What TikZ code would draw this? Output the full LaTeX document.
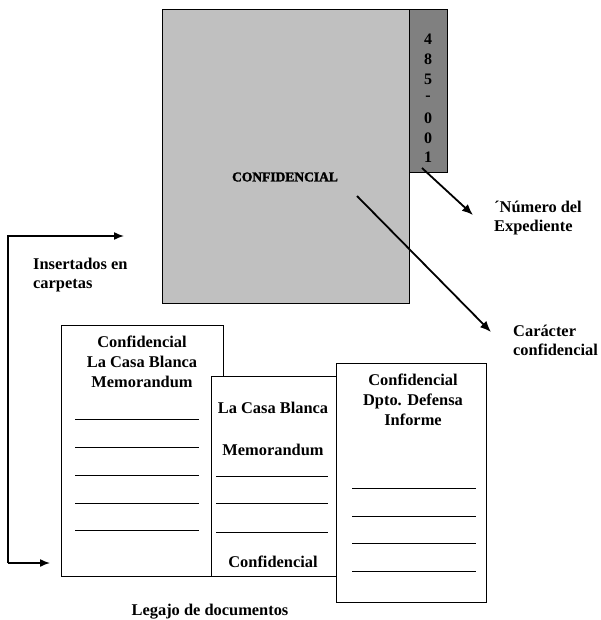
\documentclass[tikz,border=0pt]{standalone}
\usepackage{fontspec}
\setmainfont{Liberation Serif}
\usetikzlibrary{arrows.meta}
\definecolor{folder}{HTML}{C0C0C0}
\definecolor{tabgray}{HTML}{808080}
\tikzset{
  doc/.style={draw=black, line width=1pt, fill=white},
  lbl/.style={font=\fontsize{16.4}{20}\selectfont\bfseries, align=center, inner sep=0pt},
  lbll/.style={font=\fontsize{16.4}{19}\selectfont\bfseries, align=left, inner sep=0pt, anchor=west},
  rule/.style={line width=0.8pt},
  arr/.style={line width=1.8pt, -{Latex[length=11pt,width=9pt]}},
  digit/.style={font=\fontsize{16}{16}\selectfont\bfseries, inner sep=0pt}
}
\begin{document}
\begin{tikzpicture}[x=1pt,y=-1pt]
\useasboundingbox (0,0) rectangle (601,620);
% folder
\draw[fill=folder, line width=1pt] (162,10) rectangle (409,303);
\draw[fill=tabgray, line width=1pt] (409,10) rectangle (447,173);
\node[font=\fontsize{13.5}{13.5}\selectfont\bfseries\addfontfeature{FakeBold=2}, inner sep=0pt] (conf) at (285,177) {CONFIDENCIAL};
\foreach \d/\y [count=\i] in {4/39,8/59,5/79,-/98,0/118,0/138,1/157}{
  \node[digit] (d\i) at (428,\y) {\d};
}
\coordinate (tabend) at (422,168);
\coordinate (confpt) at (357,196);
\node[lbll] (numexp) at (494,218) {´Número del\\Expediente};
\node[lbll] (carconf) at (513,340) {Carácter\\confidencial};
\coordinate (tip1) at (473,215);
\coordinate (tip2) at (491,332);
\draw[arr] (tabend) -- (tip1);
\draw[arr] (confpt) -- (tip2);
% inserted arrow
\coordinate (c1) at (8,563);
\coordinate (c2) at (8,236);
\coordinate (t1) at (124,236);
\coordinate (t2) at (50,563);
\draw[line width=1.5pt, -{Latex[length=10pt,width=8pt]}] (c1) -- (c2) -- (t1);
\draw[line width=1.5pt, -{Latex[length=10pt,width=8pt]}] (c1) -- (t2);
\node[lbll] (ins) at (33,275) {Insertados en\\carpetas};
% documents
\draw[doc] (61,325) rectangle (223,576);
\node[lbl] (d1t) at (142,362) {Confidencial\\La Casa Blanca\\Memorandum};
\foreach \y in {419,447,475,503,530}{\draw[rule] (75,\y) -- (199,\y);}
\draw[doc] (211,376) rectangle (336,576);
\node[lbl] (d2a) at (273,408) {La Casa Blanca};
\node[lbl] (d2b) at (273,450) {Memorandum};
\foreach \y in {476,503,532}{\draw[rule] (216,\y) -- (328,\y);}
\node[lbl] (d2c) at (273,562) {Confidencial};
\draw[doc] (336,363) rectangle (486,602);
\node[lbl] (d3t) at (413,400) {Confidencial\\Dpto. Defensa\\Informe};
\foreach \y in {488,516,543,571}{\draw[rule] (352,\y) -- (476,\y);}
\node[lbl] (leg) at (210,612) {Legajo de documentos};
\end{tikzpicture}
\end{document}
